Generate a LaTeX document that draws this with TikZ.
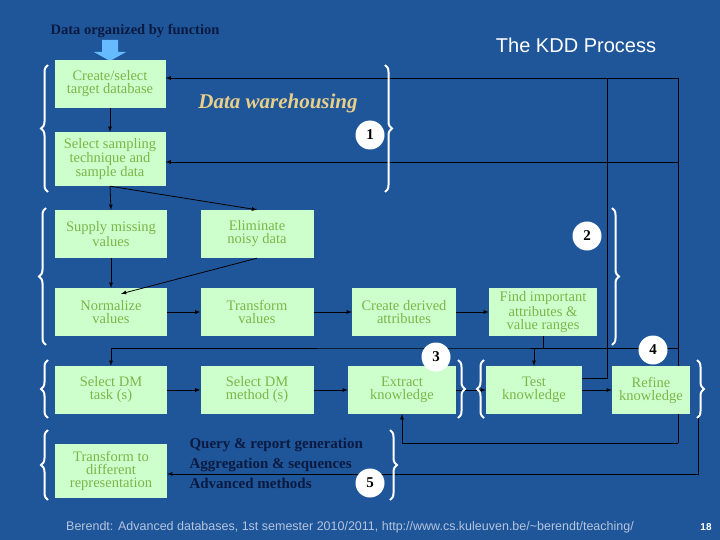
\documentclass[tikz,border=0pt]{standalone}
\usepackage{fontspec}
\setmainfont{Liberation Serif}
\setsansfont{Liberation Sans}
\usetikzlibrary{arrows,decorations.pathreplacing}
\definecolor{bg}{HTML}{1F569A}
\definecolor{boxfill}{HTML}{CCFFCC}
\definecolor{boxtext}{HTML}{7AB648}
\definecolor{navy}{HTML}{0A1A40}
\definecolor{tan}{HTML}{E8D08A}
\definecolor{arrowblue}{HTML}{66BBFF}
\definecolor{foottext}{HTML}{B4C4DC}
\tikzset{
  stepbox/.style={rectangle,fill=boxfill,text=boxtext,align=center,inner sep=0pt,
    font=\fontsize{14.5}{13}\selectfont},
  flow/.style={->,>=latex,thick,black},
  link/.style={black,thick},
  num/.style={circle,fill=white,minimum size=29pt,inner sep=0pt,font=\bfseries\fontsize{15}{15}\selectfont},
  grp/.style={decorate,decoration={brace,amplitude=7pt},white,line width=2pt}
}
\begin{document}
\begin{tikzpicture}[x=1pt,y=-1pt]
        \fill[bg] (0,0) rectangle (720,540);
        \useasboundingbox (0,0) rectangle (720,540);

        % titel en kop
        \node[text=navy,font=\bfseries\fontsize{14.5}{15}\selectfont] (head) at (135,31) {Data organized by function};
        \node[text=white,font=\sffamily\fontsize{20}{22}\selectfont] (title) at (576,45) {The KDD Process};
        \node[text=tan,font=\bfseries\itshape\fontsize{21}{22}\selectfont] (dw) at (278,103) {Data warehousing};
        \fill[arrowblue] (102,40) -- (118,40) -- (118,52) -- (126,52) -- (110,61) -- (94,52) -- (102,52) -- cycle;

        % stappen
        \node[stepbox,minimum width=111pt,minimum height=48pt] (create) at (110,84) {Create/select\\target database};
        \node[stepbox,minimum width=111pt,minimum height=54pt] (sample) at (110,159) {Select sampling\\technique and\\sample data};
        \node[stepbox,minimum width=112pt,minimum height=48pt] (supply) at (111,234) {Supply missing\\values};
        \node[stepbox,minimum width=113pt,minimum height=48pt] (noise) at (257,234) {Eliminate\\noisy data};
        \node[stepbox,minimum width=112pt,minimum height=48pt] (norm) at (111,312) {Normalize\\values};
        \node[stepbox,minimum width=113pt,minimum height=48pt] (trans) at (257,312) {Transform\\values};
        \node[stepbox,minimum width=104pt,minimum height=48pt] (derive) at (404,312) {Create derived\\attributes};
        \node[stepbox,minimum width=108pt,minimum height=48pt] (find) at (543,312) {Find important\\attributes \&\\value ranges};
        \node[stepbox,minimum width=112pt,minimum height=48pt] (task) at (111,390) {Select DM\\task (s)};
        \node[stepbox,minimum width=113pt,minimum height=48pt] (method) at (257,390) {Select DM\\method (s)};
        \node[stepbox,minimum width=108pt,minimum height=48pt] (extract) at (402,390) {Extract\\knowledge};
        \node[stepbox,minimum width=96pt,minimum height=48pt] (test) at (534,390) {Test\\knowledge};
        \node[stepbox,minimum width=78pt,minimum height=48pt] (refine) at (651,390) {Refine\\knowledge};
        \node[stepbox,minimum width=112pt,minimum height=54pt] (repr) at (111,471) {Transform to\\different\\representation};

        \node[text=navy,font=\bfseries\fontsize{15}{15}\selectfont,anchor=west,align=left] (query) at (186,463)
          {Query \& report generation\\[5pt]Aggregation \& sequences\\[5pt]Advanced methods};

        % hulppunten
        \coordinate (tl) at (678,78);
        \coordinate (tr) at (607,78);
        \coordinate (ml) at (678,162);
        \coordinate (up4) at (678,348);
        \coordinate (up3) at (518,348);
        \coordinate (lo) at (678,443);
        \coordinate (bot) at (698,474);

        % pijlen
        \draw[flow] (create) -- (sample);
        \draw[flow] (sample.south) -- (supply.north);
        \draw[flow] (sample.south) -- (noise.north);
        \draw[flow] (supply) -- (norm);
        \draw[flow] (noise.south) -- ([xshift=10pt,yshift=-6pt]norm.north);
        \draw[flow] (norm) -- (trans);
        \draw[flow] (trans) -- (derive);
        \draw[flow] (derive) -- (find);
        \draw[flow] (task) -- (method);
        \draw[flow] (method) -- (extract);
        \draw[flow] (extract) -- (test);
        \draw[flow] (test) -- (refine);
        \draw[flow] (find.south) |- (up3) -| (task.north);

        % terugkoppeling
        \draw[link] (tl) -- (refine.north -| tl);
        \draw[link] (refine.south -| lo) -- (lo);
        \draw[flow] (tl) -- (create.east |- tl);
        \draw[flow] (ml) -- (sample.east |- ml);
        \draw[flow] (up4) -| (test.north);
        \draw[link] (test.east |- 0,378) -| (tr);
        \draw[flow] (lo) -| (extract.south);
        \draw[flow] (refine.south -| bot) -- (bot) -- (repr.east |- bot);

        % accolades
        \draw[grp] (48,192) -- (48,65);
        \draw[grp] (385,65) -- (385,192);
        \draw[grp] (46,345) -- (46,208);
        \draw[grp] (612,208) -- (612,345);
        \draw[grp] (48,418) -- (48,360);
        \draw[grp] (458,360) -- (458,418);
        \draw[grp] (484,418) -- (484,360);
        \draw[grp] (697,360) -- (697,418);
        \draw[grp] (48,500) -- (48,430);
        \draw[grp] (390,430) -- (390,500);

        % nummers
        \node[num] (n1) at (370,135) {1};
        \node[num] (n2) at (587,236) {2};
        \node[num] (n3) at (436,357) {3};
        \node[num] (n4) at (653,350) {4};
        \node[num] (n5) at (370,483) {5};

        % voetregel
        \node[text=foottext,font=\sffamily\fontsize{12.5}{13}\selectfont] (foot) at (350,527)
          {Berendt: Advanced databases, 1st semester 2010/2011, http://www.cs.kuleuven.be/\textasciitilde berendt/teaching/};
        \node[text=white,font=\sffamily\bfseries\fontsize{10}{11}\selectfont] (page) at (706,527) {18};
\end{tikzpicture}
\end{document}
